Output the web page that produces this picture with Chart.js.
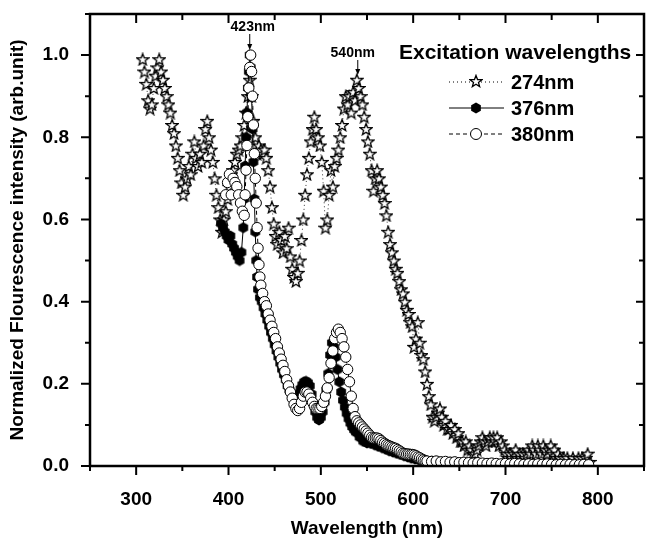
<!DOCTYPE html>
<html>
<head>
<meta charset="utf-8">
<script src="https://cdn.jsdelivr.net/npm/chart.js"></script>
<style>
body { margin: 0; background: #fff; }
</style>
</head>
<body>
<canvas id="fluo" width="646" height="540"></canvas>
<script>
// excitation 274 nm (open stars)
const wl274 = [
  307,309,311,313,315,317,319,321,323,325,
  327,329,331,333,335,337,339,341,343,345,
  347,349,351,353,355,357,359,361,363,365,
  367,369,371,373,375,377,379,381,383,385,
  387,389,391,393,395,397,399,401,403,405,
  407,409,411,413,415,417,419,421,423,425,
  427,429,431,433,435,437,439,441,443,445,
  447,449,451,453,455,457,459,461,463,465,
  467,469,471,473,475,477,479,481,483,485,
  487,489,491,493,495,497,499,501,503,505,
  507,509,511,513,515,517,519,521,523,525,
  527,529,531,533,535,537,539,541,543,545,
  547,549,551,553,555,557,559,561,563,565,
  567,569,571,573,575,577,579,581,583,585,
  587,589,591,593,595,597,599,601,603,605,
  607,609,611,613,615,617,619,621,623,625,
  627,629,631,633,635,637,639,641,643,645,
  647,649,651,653,655,657,659,661,663,665,
  667,669,671,673,675,677,679,681,683,685,
  687,689,691,693,695,697,699,701,703,705,
  707,709,711,713,715,717,719,721,723,725,
  727,729,731,733,735,737,739,741,743,745,
  747,749,751,753,755,757,759,761,763,765,
  767,769,771,773,775,777,779,781,783,785,
  787,789,791
];
const val274 = [
  0.99,0.96,0.93,0.89,0.87,0.88,0.92,0.95,0.97,0.99,
  0.96,0.94,0.92,0.90,0.88,0.86,0.83,0.81,0.78,0.75,
  0.72,0.69,0.66,0.68,0.70,0.73,0.71,0.76,0.79,0.75,
  0.73,0.76,0.74,0.78,0.82,0.84,0.80,0.77,0.74,0.70,
  0.66,0.63,0.60,0.57,0.60,0.62,0.65,0.68,0.71,0.72,
  0.74,0.76,0.77,0.78,0.80,0.83,0.86,0.90,0.94,0.90,
  0.84,0.80,0.76,0.78,0.77,0.76,0.77,0.75,0.72,0.68,
  0.63,0.59,0.56,0.54,0.57,0.55,0.52,0.56,0.53,0.58,
  0.51,0.48,0.46,0.45,0.47,0.50,0.55,0.60,0.66,0.71,
  0.75,0.79,0.82,0.85,0.82,0.80,0.78,0.74,0.67,0.58,
  0.60,0.66,0.72,0.68,0.73,0.75,0.77,0.80,0.83,0.87,
  0.90,0.88,0.90,0.86,0.91,0.89,0.94,0.92,0.90,0.88,
  0.85,0.82,0.79,0.76,0.72,0.67,0.70,0.72,0.70,0.68,
  0.66,0.64,0.61,0.57,0.54,0.52,0.50,0.48,0.47,0.45,
  0.43,0.42,0.40,0.38,0.37,0.35,0.34,0.29,0.31,0.35,
  0.30,0.27,0.26,0.23,0.20,0.17,0.15,0.12,0.11,0.12,
  0.13,0.14,0.12,0.10,0.11,0.09,0.09,0.10,0.08,0.09,
  0.07,0.08,0.06,0.06,0.05,0.06,0.04,0.05,0.04,0.03,
  0.03,0.04,0.05,0.06,0.07,0.06,0.05,0.06,0.07,0.06,
  0.07,0.06,0.07,0.05,0.06,0.05,0.04,0.03,0.02,0.03,
  0.02,0.03,0.04,0.02,0.03,0.02,0.03,0.02,0.03,0.04,
  0.03,0.05,0.04,0.03,0.05,0.04,0.03,0.05,0.04,0.03,
  0.04,0.05,0.03,0.04,0.02,0.03,0.02,0.01,0.02,0.01,
  0.02,0.01,0.01,0.02,0.01,0.01,0.02,0.01,0.02,0.01,
  0.02,0.03,0.01
];

// excitation 376 nm (filled hexagons)
const wl376 = [
  392,394,396,398,400,402,404,406,408,410,
  412,414,416,417,418,419,420,421,422,423,
  424,425,426,427,428,429,430,431,432,434,
  436,438,440,442,444,446,448,450,452,454,
  456,458,460,462,464,466,468,470,472,474,
  476,478,480,482,484,486,488,490,492,494,
  496,498,500,502,504,506,508,510,512,514,
  516,518,520,522,524,526,528,530,532,534,
  536,538,542,546,550,554,558,562,566,570,
  574,578,582,586,590,594,598,602,606,610,
  615,620,625,630,635,640,645,650,655,660,
  665,670,675,680,685,690,695,700,705,710,
  715,720,725,730,735,740,745,750,755,760,
  765,770,775,780,785,790
];
const val376 = [
  0.59,0.58,0.57,0.56,0.55,0.56,0.54,0.53,0.52,0.51,
  0.50,0.52,0.58,0.65,0.73,0.80,0.86,0.92,0.96,1.00,
  0.97,0.90,0.82,0.74,0.65,0.57,0.50,0.46,0.43,0.41,
  0.40,0.385,0.37,0.355,0.34,0.325,0.31,0.295,0.28,0.265,
  0.25,0.235,0.222,0.21,0.195,0.185,0.178,0.172,0.167,0.167,
  0.175,0.188,0.198,0.205,0.206,0.203,0.195,0.175,0.152,0.132,
  0.118,0.112,0.118,0.132,0.155,0.185,0.225,0.27,0.30,0.29,
  0.265,0.235,0.205,0.18,0.16,0.143,0.128,0.115,0.104,0.095,
  0.088,0.082,0.07,0.06,0.056,0.055,0.052,0.048,0.045,0.041,
  0.037,0.034,0.031,0.028,0.025,0.022,0.019,0.017,0.015,0.014,
  0.012,0.011,0.011,0.010,0.010,0.009,0.009,0.008,0.008,0.007,
  0.007,0.007,0.006,0.006,0.006,0.005,0.005,0.005,0.005,0.004,
  0.004,0.004,0.004,0.004,0.004,0.003,0.003,0.003,0.003,0.003,
  0.003,0.003,0.003,0.002,0.002,0.002
];

// excitation 380 nm (open circles)
const wl380 = [
  397,399,401,403,405,407,409,411,413,415,
  417,418,419,420,421,422,423,424,425,426,
  427,428,429,430,431,432,433,434,435,437,
  439,441,443,445,447,449,451,453,455,457,
  459,461,463,465,467,469,471,473,475,477,
  479,481,483,485,487,489,491,493,495,497,
  499,501,503,505,507,509,511,513,515,517,
  519,521,523,525,527,529,531,533,535,537,
  539,541,543,545,547,549,551,553,555,557,
  559,561,563,565,567,569,571,573,575,577,
  579,581,583,585,587,589,591,593,595,597,
  599,601,603,605,607,609,611,613,615,620,
  625,630,635,640,645,650,655,660,665,670,
  675,680,685,690,695,700,705,710,715,720,
  725,730,735,740,745,750,755,760,765,770,
  775,780,785,790
];
const val380 = [
  0.66,0.69,0.71,0.66,0.70,0.69,0.68,0.66,0.64,0.62,
  0.61,0.66,0.72,0.78,0.85,0.92,0.97,1.00,0.96,0.90,
  0.83,0.76,0.70,0.64,0.58,0.53,0.49,0.46,0.44,0.42,
  0.40,0.39,0.37,0.355,0.34,0.325,0.31,0.29,0.275,0.26,
  0.245,0.23,0.21,0.195,0.18,0.165,0.15,0.14,0.135,0.14,
  0.155,0.17,0.18,0.18,0.175,0.165,0.155,0.145,0.14,0.14,
  0.14,0.145,0.155,0.17,0.19,0.215,0.25,0.28,0.31,0.325,
  0.333,0.325,0.31,0.29,0.265,0.235,0.205,0.17,0.14,0.12,
  0.11,0.105,0.10,0.095,0.09,0.085,0.08,0.075,0.07,0.068,
  0.068,0.068,0.066,0.062,0.058,0.055,0.052,0.05,0.048,0.046,
  0.044,0.043,0.04,0.037,0.034,0.031,0.03,0.029,0.029,0.028,
  0.028,0.027,0.025,0.022,0.02,0.017,0.015,0.013,0.012,0.011,
  0.012,0.010,0.011,0.009,0.010,0.008,0.009,0.008,0.007,0.008,
  0.007,0.006,0.007,0.006,0.005,0.006,0.005,0.006,0.005,0.004,
  0.005,0.004,0.005,0.004,0.005,0.004,0.003,0.004,0.003,0.004,
  0.003,0.003,0.004,0.003
];

const seriesLabels = ['274nm', '376nm', '380nm'];
const xLabelTicks = [300, 400, 500, 600, 700, 800];
const yLabelTicks = [0.0, 0.2, 0.4, 0.6, 0.8, 1.0];
const peaks = [423, 540];

const FONT = '"Liberation Sans", Arial, Helvetica, sans-serif';

function pts(wl, v) {
  return wl.map((x, i) => ({ x: x, y: v[i] }));
}

function starMarker() {
  const c = document.createElement('canvas');
  c.width = 14; c.height = 14;
  const g = c.getContext('2d');
  g.beginPath();
  for (let i = 0; i < 10; i++) {
    const r = i % 2 ? 2.6 : 6.2;
    const a = -Math.PI / 2 + i * Math.PI / 5;
    const px = 7 + r * Math.cos(a), py = 7.6 + r * Math.sin(a);
    if (i) g.lineTo(px, py); else g.moveTo(px, py);
  }
  g.closePath();
  g.fillStyle = '#fff';
  g.fill();
  g.strokeStyle = '#000';
  g.lineWidth = 1.3;
  g.stroke();
  return c;
}

function hexMarker() {
  const c = document.createElement('canvas');
  c.width = 12; c.height = 12;
  const g = c.getContext('2d');
  g.beginPath();
  for (let i = 0; i < 6; i++) {
    const a = Math.PI / 6 + i * Math.PI / 3;
    const px = 6 + 5.6 * Math.cos(a), py = 6 + 5.6 * Math.sin(a);
    if (i) g.lineTo(px, py); else g.moveTo(px, py);
  }
  g.closePath();
  g.fillStyle = '#000';
  g.fill();
  return c;
}

const star = starMarker();
const hex = hexMarker();

const frame = {
  id: 'frame',
  afterDraw(chart) {
    const { ctx, chartArea: a, scales: { x, y } } = chart;
    ctx.save();
    ctx.strokeStyle = '#000';
    ctx.lineWidth = 2.5;
    ctx.strokeRect(a.left, a.top, a.right - a.left, a.bottom - a.top);

    ctx.lineWidth = 2;
    ctx.beginPath();
    x.ticks.forEach(t => {
      const px = x.getPixelForValue(t.value);
      const major = t.value % 100 === 0;
      ctx.moveTo(px, a.bottom); ctx.lineTo(px, a.bottom + (major ? 9 : 5));
      ctx.moveTo(px, a.top); ctx.lineTo(px, a.top + (major ? 9 : 6));
    });
    y.ticks.forEach(t => {
      const py = y.getPixelForValue(t.value);
      const major = Math.round(t.value * 10) % 2 === 0;
      ctx.moveTo(a.left, py); ctx.lineTo(a.left - (major ? 9 : 5), py);
      ctx.moveTo(a.right, py); ctx.lineTo(a.right - (major ? 8 : 5), py);
    });
    ctx.stroke();

    // peak markers
    ctx.fillStyle = '#000';
    ctx.font = 'bold 14px ' + FONT;
    ctx.textAlign = 'center';
    ctx.textBaseline = 'middle';
    const tops = [[27, 34, 50], [53, 60, 75]];
    peaks.forEach((p, i) => {
      const px = x.getPixelForValue(p);
      const [ty, y0, y1] = tops[i];
      ctx.fillText(p + 'nm', px + (i ? -5 : 3), ty);
      ctx.lineWidth = 1;
      ctx.beginPath();
      ctx.moveTo(px, y0); ctx.lineTo(px, y1 - 5);
      ctx.stroke();
      ctx.beginPath();
      ctx.moveTo(px - 2.5, y1 - 6); ctx.lineTo(px + 2.5, y1 - 6); ctx.lineTo(px, y1);
      ctx.closePath();
      ctx.fill();
    });

    // legend
    ctx.textAlign = 'left';
    ctx.font = 'bold 21px ' + FONT;
    ctx.fillText('Excitation wavelengths', 399, 53);
    ctx.font = 'bold 20px ' + FONT;
    const rows = [82, 108, 134];
    const dashes = [[1, 3], [], [4, 3]];
    chart.data.datasets.forEach((ds, i) => {
      const ry = rows[i];
      ctx.setLineDash(dashes[i]);
      ctx.lineWidth = 1;
      ctx.strokeStyle = '#000';
      ctx.beginPath();
      ctx.moveTo(449, ry); ctx.lineTo(504, ry);
      ctx.stroke();
      ctx.setLineDash([]);
      if (i === 0) ctx.drawImage(star, 476 - 7, ry - 8);
      else if (i === 1) ctx.drawImage(hex, 476 - 6, ry - 6);
      else {
        ctx.beginPath();
        ctx.arc(476, ry, 5.5, 0, Math.PI * 2);
        ctx.fillStyle = '#fff'; ctx.fill();
        ctx.stroke();
        ctx.fillStyle = '#000';
      }
      ctx.fillText(ds.label, 511, ry + 1);
    });
    ctx.restore();
  }
};

new Chart(document.getElementById('fluo'), {
  type: 'scatter',
  data: {
    datasets: [{
      label: seriesLabels[0],
      data: pts(wl274, val274),
      showLine: true,
      borderColor: '#333',
      borderWidth: 1,
      borderDash: [1, 3],
      pointStyle: star,
      order: 3
    }, {
      label: seriesLabels[1],
      data: pts(wl376, val376),
      showLine: true,
      borderColor: '#000',
      borderWidth: 1,
      pointStyle: hex,
      order: 2
    }, {
      label: seriesLabels[2],
      data: pts(wl380, val380),
      showLine: true,
      borderColor: '#000',
      borderWidth: 1,
      borderDash: [4, 3],
      pointStyle: 'circle',
      pointRadius: 5.2,
      pointBackgroundColor: '#fff',
      pointBorderColor: '#000',
      pointBorderWidth: 1,
      order: 1
    }]
  },
  options: {
    responsive: false,
    animation: false,
    events: [],
    layout: { autoPadding: false, padding: { top: 14, right: 2, left: 0, bottom: 0 } },
    plugins: { legend: { display: false }, tooltip: { enabled: false } },
    scales: {
      x: {
        type: 'linear',
        min: 250,
        max: 850,
        afterFit: s => { s.height = 74; s.paddingLeft = 0; s.paddingRight = 0; },
        border: { display: false },
        grid: { drawOnChartArea: false, drawTicks: false },
        ticks: {
          stepSize: 50,
          autoSkip: false,
          maxRotation: 0,
          padding: 22,
          color: '#000',
          font: { family: FONT, size: 19, weight: 'bold' },
          callback: v => xLabelTicks.includes(v) ? String(v) : ''
        },
        title: {
          display: true,
          text: 'Wavelength (nm)',
          color: '#000',
          padding: { top: 0, bottom: 0 },
          font: { family: FONT, size: 19, weight: 'bold' }
        }
      },
      y: {
        min: 0,
        max: 1.1,
        afterFit: s => { s.width = 90; s.paddingTop = 0; s.paddingBottom = 0; },
        border: { display: false },
        grid: { drawOnChartArea: false, drawTicks: false },
        ticks: {
          stepSize: 0.1,
          autoSkip: false,
          padding: 21,
          color: '#000',
          font: { family: FONT, size: 19, weight: 'bold' },
          callback: v => yLabelTicks.some(t => Math.abs(t - v) < 1e-6) ? v.toFixed(1) : ''
        },
        title: {
          display: true,
          text: 'Normalized Flourescence intensity (arb.unit)',
          color: '#000',
          padding: { top: 6, bottom: 0 },
          font: { family: FONT, size: 19, weight: 'bold' }
        }
      }
    }
  },
  plugins: [frame]
});
</script>
</body>
</html>
